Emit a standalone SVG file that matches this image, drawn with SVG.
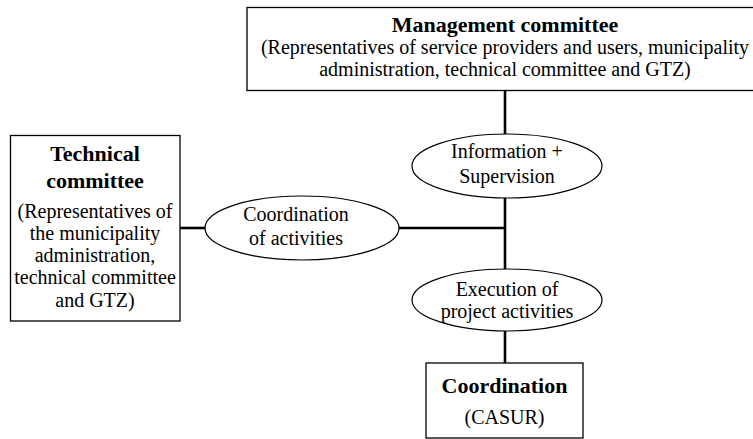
<svg xmlns="http://www.w3.org/2000/svg" width="753" height="439" viewBox="0 0 753 439">
<style>
.box{fill:#fff;stroke:#000;stroke-width:1.3}
.ell{fill:#fff;stroke:#000;stroke-width:1.2}
.con{stroke:#000;stroke-width:2.6;fill:none}
text{font-family:"Liberation Serif","Times New Roman",serif;fill:#000;text-anchor:middle}
.t{font-size:22px;font-weight:bold}
.b{font-size:20px}
</style>
<rect width="753" height="439" fill="#fff"/>
<g id="connectors">
<line class="con" x1="505" y1="90" x2="505" y2="135"/>
<line class="con" x1="505" y1="197" x2="505" y2="270"/>
<line class="con" x1="398" y1="228" x2="505" y2="228"/>
<line class="con" x1="180" y1="228" x2="206" y2="228"/>
<line class="con" x1="505" y1="330" x2="505" y2="363"/>
</g>
<g id="management">
<rect class="box" x="247" y="7.5" width="510" height="83"/>
<text class="t" x="505" y="32">Management committee</text>
<text class="b" x="505" y="54">(Representatives of service providers and users, municipality</text>
<text class="b" x="505" y="76">administration, technical committee and GTZ)</text>
</g>
<g id="technical">
<rect class="box" x="10.5" y="135.5" width="169.5" height="185.5"/>
<text class="t" x="95" y="161">Technical</text>
<text class="t" x="95" y="188">committee</text>
<text class="b" x="95" y="218">(Representatives of</text>
<text class="b" x="95" y="240">the municipality</text>
<text class="b" x="95" y="262">administration,</text>
<text class="b" x="95" y="284">technical committee</text>
<text class="b" x="95" y="307">and GTZ)</text>
</g>
<g id="information">
<ellipse class="ell" cx="507" cy="166" rx="95" ry="32"/>
<text class="b" x="507" y="158">Information +</text>
<text class="b" x="507" y="183">Supervision</text>
</g>
<g id="coordination-activities">
<ellipse class="ell" cx="302" cy="228" rx="97" ry="32"/>
<text class="b" x="296" y="221">Coordination</text>
<text class="b" x="296" y="245">of activities</text>
</g>
<g id="execution">
<ellipse class="ell" cx="507" cy="300" rx="95" ry="31"/>
<text class="b" x="507" y="296">Execution of</text>
<text class="b" x="507" y="318">project activities</text>
</g>
<g id="coordination">
<rect class="box" x="426" y="363" width="157" height="75"/>
<text class="t" x="504.5" y="393">Coordination</text>
<text class="b" x="504.5" y="424">(CASUR)</text>
</g>
</svg>
